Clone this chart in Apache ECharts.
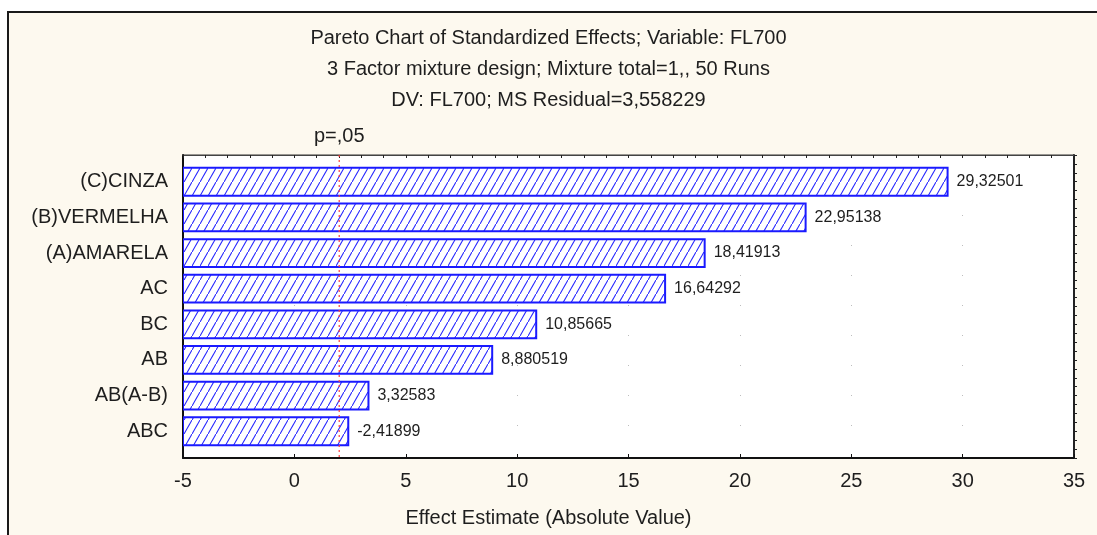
<!DOCTYPE html>
<html>
<head>
<meta charset="utf-8">
<title>Pareto Chart of Standardized Effects</title>
<script src="https://cdn.jsdelivr.net/npm/echarts@6/dist/echarts.min.js"></script>
<style>
  html, body { margin: 0; padding: 0; background: #ffffff; overflow: hidden; }
  #panel {
    position: absolute; left: 7px; top: 11px; width: 1110px; height: 540px;
    background: #fdf9ef; border-left: 2px solid #1a1a1a; border-top: 2px solid #1a1a1a;
  }
  #chart { position: absolute; left: 0; top: 0; width: 1097px; height: 535px; }
</style>
</head>
<body>
<div id="panel"></div>
<div id="chart"></div>
<script>
// Effects, sorted by absolute size (labels on the left axis, top to bottom)
const CATEGORIES = ['(C)CINZA', '(B)VERMELHA', '(A)AMARELA', 'AC', 'BC', 'AB', 'AB(A-B)', 'ABC'];
// Standardized effect estimates (t-values)
const EFFECTS = [29.32501, 22.95138, 18.41913, 16.64292, 10.85665, 8.880519, 3.32583, -2.41899];
// Critical t-value for p = .05
const P_CRIT = 2.0129;
const P_LABEL = 'p=,05';
// Effect axis range and tick step
const X_MIN = -5, X_MAX = 35, X_STEP = 5;

const TITLE_LINES = [
  'Pareto Chart of Standardized Effects; Variable: FL700',
  '3 Factor mixture design; Mixture total=1,, 50 Runs',
  'DV: FL700; MS Residual=3,558229'
];
const X_NAME = 'Effect Estimate (Absolute Value)';

const FONT = '"Liberation Sans", Arial, sans-serif';
const INK = '#1e1e1e';
const BAR_BLUE = '#1a1aff';

// Category slots run from -0.75 to n-0.25 so each end has a little extra room
const Y_MIN = -0.75, Y_MAX = CATEGORIES.length - 0.25;
const catIdx = CATEGORIES.map((_, i) => i);
const quarterTicks = [];
for (let v = Y_MIN; v <= Y_MAX + 1e-9; v += 0.25) quarterTicks.push(+v.toFixed(2));
const xMinorTicks = [];
for (let v = X_MIN; v <= X_MAX; v += 1) xMinorTicks.push(v);

// Diagonal hatch used to fill the bars
function makeHatch() {
  const w = 8, h = 14;
  const c = document.createElement('canvas');
  c.width = w; c.height = h;
  const g = c.getContext('2d');
  g.fillStyle = '#ffffff';
  g.fillRect(0, 0, w, h);
  g.strokeStyle = '#2323ff';
  g.lineWidth = 1.1;
  g.beginPath();
  g.moveTo(-1, h + h / w); g.lineTo(w + 1, -h / w);
  g.stroke();
  return { image: c, repeat: 'repeat' };
}
const hatch = makeHatch();

const fmtNum = v => String(v).replace('.', ',');

const barData = EFFECTS.map((v, i) => [Math.abs(v), i, v]);

const chart = echarts.init(document.getElementById('chart'), null, { renderer: 'canvas' });

chart.setOption({
  backgroundColor: 'transparent',
  animation: false,
  title: [
    {
      text: TITLE_LINES.join('\n'),
      left: 'center',
      top: 18,
      textStyle: { fontFamily: FONT, fontSize: 20, fontWeight: 'normal', color: INK, lineHeight: 31 }
    },
    {
      // axis title, centred on the page as in the original layout
      text: X_NAME,
      left: 'center',
      top: 502,
      textStyle: { fontFamily: FONT, fontSize: 20, fontWeight: 'normal', color: INK, lineHeight: 22 }
    }
  ],
  grid: {
    left: 183, right: 23, top: 155, bottom: 77,
    show: true, backgroundColor: '#ffffff', borderColor: '#333', borderWidth: 1,
    outerBoundsMode: 'none'
  },
  xAxis: [
    {
      type: 'value', position: 'bottom', min: X_MIN, max: X_MAX, interval: X_STEP,
      axisLine: { show: true, onZero: false, lineStyle: { color: '#111', width: 2 } },
      axisTick: { show: true, inside: true, length: 4, lineStyle: { color: '#111' } },
      axisLabel: { fontFamily: FONT, fontSize: 20, color: INK, margin: 13 },
      splitLine: { show: true, lineStyle: { color: '#bdbdbd', width: 1, type: [1, 29] } }
    },
    {
      type: 'value', position: 'top', min: X_MIN, max: X_MAX,
      axisLine: { show: true, onZero: false, lineStyle: { color: '#444', width: 1 } },
      axisTick: { show: true, inside: true, length: 3, customValues: xMinorTicks, lineStyle: { color: '#222' } },
      axisLabel: { show: false },
      splitLine: { show: false }
    }
  ],
  yAxis: [
    {
      type: 'value', position: 'left', inverse: true, min: Y_MIN, max: Y_MAX,
      axisLine: { show: true, onZero: false, lineStyle: { color: '#111', width: 2 } },
      axisTick: { show: true, inside: true, length: 4, customValues: catIdx, lineStyle: { color: '#111' } },
      axisLabel: {
        customValues: catIdx, fontFamily: FONT, fontSize: 20, color: INK, margin: 15,
        formatter: v => CATEGORIES[Math.round(v)] || ''
      },
      splitLine: { show: false }
    },
    {
      type: 'value', position: 'right', inverse: true, min: Y_MIN, max: Y_MAX,
      axisLine: { show: true, onZero: false, lineStyle: { color: '#222', width: 2 } },
      axisTick: { show: true, inside: false, length: 3, customValues: quarterTicks, lineStyle: { color: '#222' } },
      axisLabel: { show: false },
      splitLine: { show: false }
    },
    {
      type: 'value', position: 'right', inverse: true, min: Y_MIN, max: Y_MAX,
      axisLine: { show: false },
      axisTick: { show: true, inside: false, length: 4, customValues: catIdx, lineStyle: { color: '#222', width: 1.5 } },
      axisLabel: { show: false },
      splitLine: { show: false }
    }
  ],
  series: [
    {
      type: 'custom',
      xAxisIndex: 0, yAxisIndex: 0,
      data: barData,
      encode: { x: 0, y: 1 },
      clip: true,
      renderItem: function (params, api) {
        const idx = api.value(1);
        const start = api.coord([X_MIN, idx]);
        const end = api.coord([api.value(0), idx]);
        const h = api.size([0, 0.78])[1];
        return {
          type: 'rect',
          shape: { x: start[0], y: start[1] - h / 2, width: end[0] - start[0], height: h },
          style: { fill: hatch, stroke: BAR_BLUE, lineWidth: 2 },
          textContent: {
            style: { text: fmtNum(api.value(2)), fill: INK, fontFamily: FONT, fontSize: 16 }
          },
          textConfig: { position: 'right', distance: 8 }
        };
      },
      z: 2
    },
    {
      type: 'line',
      xAxisIndex: 0, yAxisIndex: 0,
      data: [
        { value: [P_CRIT, Y_MIN], label: { show: true, formatter: P_LABEL, position: 'top', distance: 9,
          fontFamily: FONT, fontSize: 20, color: INK } },
        { value: [P_CRIT, Y_MAX] }
      ],
      symbol: 'circle', symbolSize: 0, showSymbol: true,
      lineStyle: { color: '#ff3b3b', width: 1.2, type: [2, 3] },
      z: 3,
      silent: true
    }
  ]
});
</script>
</body>
</html>
